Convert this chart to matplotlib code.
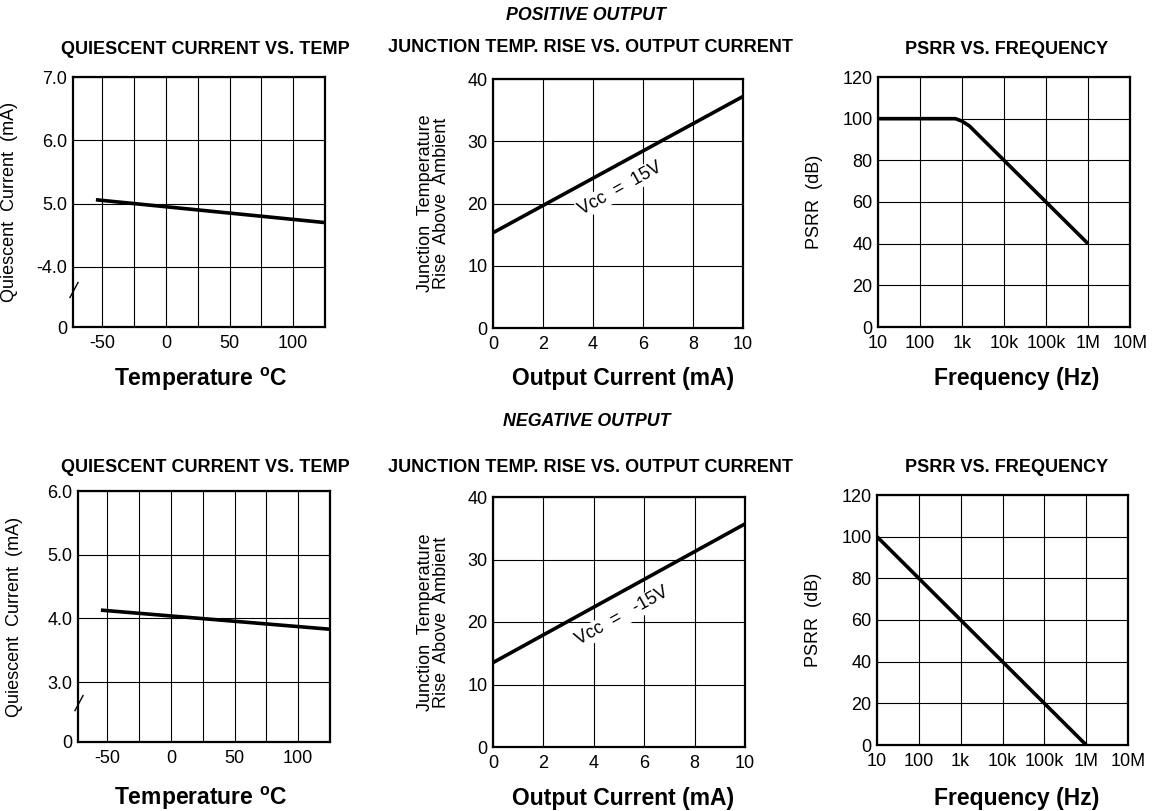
import matplotlib
matplotlib.use("Agg")
import matplotlib.pyplot as plt
from matplotlib.ticker import FixedLocator

plt.rcParams['font.family'] = ['Liberation Sans', 'DejaVu Sans']
plt.rcParams['mathtext.fontset'] = 'custom'
plt.rcParams['mathtext.rm'] = 'Liberation Sans'
plt.rcParams['mathtext.bf'] = 'Liberation Sans:bold'
plt.rcParams['axes.unicode_minus'] = False

# datos
temp_pos = [-55, 125]
iq_pos = [5.06, 4.70]
temp_neg = [-55, 125]
iq_neg = [4.13, 3.83]

iout = [0, 10]
tj_pos = [15.3, 37.2]
tj_neg = [13.5, 35.7]

freq_pos = [10, 700, 1000, 1500, 1e4, 1e5, 1e6]
psrr_pos = [100, 100, 98.8, 96.5, 80, 60, 40]
freq_neg = [10, 1e6]
psrr_neg = [100, 0]

freq_ticks = [10, 100, 1e3, 1e4, 1e5, 1e6, 1e7]
freq_labels = ["10", "100", "1k", "10k", "100k", "1M", "10M"]

W, H = 1157, 811
fig = plt.figure(figsize=(W / 100, H / 100), dpi=100)


def ejes(x0, y0, x1, y1):
    ax = fig.add_axes([x0 / W, 1 - y1 / H, (x1 - x0) / W, (y1 - y0) / H])
    for s in ax.spines.values():
        s.set_linewidth(1.6)
    ax.tick_params(which="both", length=0, labelsize=13, pad=4)
    ax.tick_params(axis="x", pad=6)
    ax.grid(True, which="both", color="black", linewidth=0.8)
    ax.set_axisbelow(True)
    return ax


def texto(x, y, s, **kw):
    fig.text(x / W, 1 - y / H, s, ha="center", va="center", **kw)


def quiescente(ax, t, iq, ymin, ylabels, ybreak):
    ax.plot(t, iq, color="black", linewidth=2.6, solid_capstyle="butt")
    ax.set_xlim(-73, 125)
    ax.set_ylim(ymin, ymin + 3.94)
    ax.xaxis.set_major_locator(FixedLocator([-50, 0, 50, 100]))
    ax.xaxis.set_minor_locator(FixedLocator([-25, 25, 75]))
    ax.set_yticks([ymin] + [round(ymin + 0.94) + k for k in range(4)])
    ax.set_yticklabels(ylabels)
    ax.set_ylabel("Quiescent  Current  (mA)", fontsize=13)
    ax.yaxis.set_label_coords(-0.22, 0.5)
    ax.plot([-0.012, 0.02], [ybreak - 0.03, ybreak + 0.03], color="black",
            linewidth=1.0, transform=ax.transAxes, clip_on=False)


def junction(ax, tj, vtxt, xy):
    ax.plot(iout, tj, color="black", linewidth=2.6, solid_capstyle="butt")
    ax.set_xlim(0, 10)
    ax.set_ylim(0, 40)
    ax.set_xticks(range(0, 11, 2))
    ax.set_yticks(range(0, 41, 10))
    ax.set_ylabel("Junction  Temperature\nRise  Above  Ambient", fontsize=13,
                  linespacing=0.95)
    ax.yaxis.set_label_coords(-0.17, 0.5)
    ax.text(xy[0], xy[1], vtxt, rotation=29, fontsize=13, ha="center",
            va="center", rotation_mode="anchor",
            bbox=dict(facecolor="white", edgecolor="none", pad=1))


def psrr(ax, f, p):
    ax.plot(f, p, color="black", linewidth=2.6, solid_capstyle="butt",
            solid_joinstyle="round")
    ax.set_xscale("log")
    ax.set_xlim(10, 1e7)
    ax.set_ylim(0, 120)
    ax.xaxis.set_major_locator(FixedLocator(freq_ticks))
    ax.xaxis.set_minor_locator(FixedLocator([]))
    ax.set_xticklabels(freq_labels)
    ax.set_yticks(range(0, 121, 20))
    ax.set_ylabel("PSRR  (dB)", fontsize=13)
    ax.yaxis.set_label_coords(-0.22, 0.5)


ax1 = ejes(73, 77, 325, 327)
quiescente(ax1, temp_pos, iq_pos, 3.05, ["0", "-4.0", "5.0", "6.0", "7.0"], 0.148)
ax2 = ejes(493, 79, 743, 328)
junction(ax2, tj_pos, "Vcc  =  15V", (5.08, 22.4))
ax3 = ejes(878, 77, 1130, 327)
psrr(ax3, freq_pos, psrr_pos)

ax4 = ejes(78, 491, 330, 742)
quiescente(ax4, temp_neg, iq_neg, 2.06, ["0", "3.0", "4.0", "5.0", "6.0"], 0.155)
ax5 = ejes(493, 497, 745, 747)
junction(ax5, tj_neg, "Vcc  =   -15V", (5.12, 20.9))
ax6 = ejes(877, 495, 1128, 745)
psrr(ax6, freq_neg, psrr_neg)

# encabezados y titulos
texto(586, 16, "POSITIVE OUTPUT", fontsize=12.8, fontweight="bold", fontstyle="italic")
texto(587, 422, "NEGATIVE OUTPUT", fontsize=12.8, fontweight="bold", fontstyle="italic")

for y in (49, 468):
    texto(205, y, "QUIESCENT CURRENT VS. TEMP", fontsize=13, fontweight="bold")
    texto(590, y - 1, "JUNCTION TEMP. RISE VS. OUTPUT CURRENT", fontsize=13, fontweight="bold")
    texto(1007, y, "PSRR VS. FREQUENCY", fontsize=13, fontweight="bold")

for y in (379, 798):
    texto(201, y, r"Temperature $^{\mathbf{o}}$C", fontsize=16.5, fontweight="bold")
    texto(623, y, "Output Current (mA)", fontsize=16.5, fontweight="bold")
    texto(1017, y, "Frequency (Hz)", fontsize=16.5, fontweight="bold")

plt.savefig("out.png", dpi=100)
print("Grafica creada")
